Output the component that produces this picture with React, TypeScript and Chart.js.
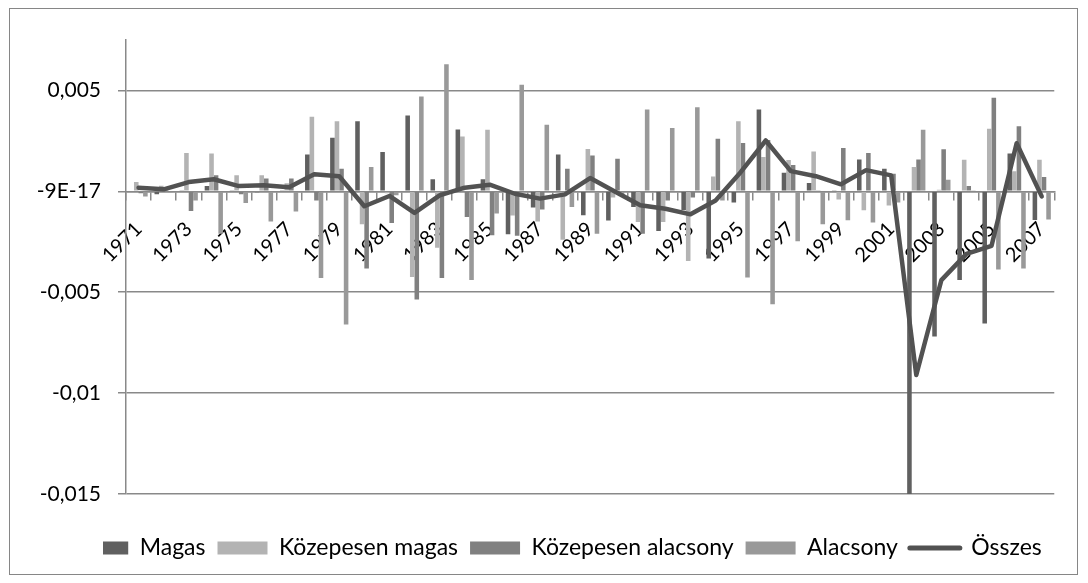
import React, { useEffect, useRef } from "react";
import { Chart, registerables } from "chart.js";

Chart.register(...registerables);

const FONT = "Lato, 'Open Sans', sans-serif";
const GRID = "#898989";

const YEARS = [
  "1971", "1972", "1973", "1974", "1975", "1976", "1977", "1978", "1979", "1980",
  "1981", "1982", "1983", "1984", "1985", "1986", "1987", "1988", "1989", "1990",
  "1991", "1992", "1993", "1994", "1995", "1996", "1997", "1998", "1999", "2000",
  "2001", "2002", "2003", "2004", "2005", "2006", "2007",
];

const MAGAS = [
  0, -0.00015, 0.00005, 0.00027, 0.00005, -0.00005, 0.00005, 0.00183, 0.00265, 0.00347,
  0.00195, 0.00376, 0.0006, 0.00307, 0.0006, -0.00213, -0.0008, 0.00183, -0.00119, -0.00145,
  -0.00078, -0.00197, -0.00094, -0.00333, -0.00055, 0.00406, 0.00092, 0.00041, 0.00005, 0.00158,
  0.00112, -0.0152, -0.0072, -0.0044, -0.00655, 0.00188, -0.00142,
];

const KOZEPESEN_MAGAS = [
  0.00046, 0.00028, 0.0019, 0.00187, 0.0008, 0.0008, 0.0004, 0.0037, 0.00347, -0.00163,
  -0.0001, -0.00424, -0.0028, 0.00272, 0.00305, -0.0012, -0.0015, -0.0024, 0.0021, -0.0003,
  -0.00152, -0.00152, -0.00345, 0.00074, 0.00347, 0.0017, 0.00155, 0.00198, -0.00041, -0.00094,
  -0.0007, 0.0012, 0.00008, 0.00157, 0.0031, 0.001, 0.00157,
];

const KOZEPESEN_ALACSONY = [
  -0.0001, 0.0001, -0.00097, 0.0008, -0.00015, 0.00063, 0.00063, -0.00045, 0.00112, -0.00383,
  -0.00157, -0.00536, -0.0043, -0.00127, -0.00218, -0.0022, -0.0009, 0.00112, 0.00178, 0.00162,
  -0.0021, -0.00045, -0.0003, 0.0026, 0.0024, 0.00254, 0.0013, 0.00005, 0.00215, 0.0019,
  0.00087, 0.00158, 0.00208, 0.00026, 0.00464, 0.00323, 0.00071,
];

const ALACSONY = [
  -0.00025, -0.00005, -0.00045, -0.0021, -0.00058, -0.0015, -0.001, -0.0043, -0.0066, 0.0012,
  -0.0002, 0.0047, 0.0063, -0.0044, -0.0011, 0.00528, 0.0033, -0.00078, -0.0021, -0.0002,
  0.00406, 0.00314, 0.00417, -0.00045, -0.00427, -0.0056, -0.00248, -0.00163, -0.00143, -0.00155,
  -0.00055, 0.00305, 0.00058, 0.00003, -0.00388, -0.00383, -0.0014,
];

const OSSZES = [
  0.00018, 0.0001, 0.00046, 0.0006, 0.00026, 0.0003, 0.0002, 0.00085, 0.00075, -0.00074,
  -0.00023, -0.00107, -0.0002, 0.00018, 0.00033, -0.00012, -0.00036, -0.00015, 0.00066, -0.00002,
  -0.00069, -0.00086, -0.00114, -0.00045, 0.00095, 0.00252, 0.001, 0.00075, 0.00035, 0.00105,
  0.00079, -0.0091, -0.0044, -0.0031, -0.0027, 0.00238, -0.00025,
];

const Y_TICKS = [-0.015, -0.01, -0.005, 0, 0.005];
const Y_LABELS = ["-0,015", "-0,01", "-0,005", "-9E-17", "0,005"];

// Moves the legend right and clips its left end, as the reference legend is cut at its left edge.
const legendTweak = {
  id: "legendTweak",
  afterLayout(chart: any) {
    const l = chart.legend;
    if (l) {
      l.left += 25;
      l.right += 25;
    }
  },
  afterDraw(chart: any) {
    const l = chart.legend;
    if (!l) return;
    const ctx = chart.ctx;
    ctx.save();
    ctx.fillStyle = "#ffffff";
    ctx.fillRect(0, l.top, 93, l.height);
    ctx.restore();
  },
};

export default function App() {
  const ref = useRef<HTMLCanvasElement>(null);

  useEffect(() => {
    if (!ref.current) return;
    const barCommon = {
      borderWidth: 0,
      categoryPercentage: 4 / 5.5,
      barPercentage: 1,
      xAxisID: "x",
      yAxisID: "y",
    };
    const chart = new Chart(ref.current, {
      type: "bar",
      data: {
        labels: YEARS,
        datasets: [
          { ...barCommon, label: "Magas", data: MAGAS, backgroundColor: "#606060" },
          { ...barCommon, label: "Közepesen magas", data: KOZEPESEN_MAGAS, backgroundColor: "#b3b3b3" },
          { ...barCommon, label: "Közepesen alacsony", data: KOZEPESEN_ALACSONY, backgroundColor: "#808080" },
          { ...barCommon, label: "Alacsony", data: ALACSONY, backgroundColor: "#999999" },
          {
            type: "line",
            label: "Összes",
            data: OSSZES,
            borderColor: "#525252",
            backgroundColor: "#525252",
            borderWidth: 4.5,
            pointRadius: 0,
            pointHoverRadius: 0,
            tension: 0,
            borderCapStyle: "round",
            borderJoinStyle: "round",
            order: -1,
            xAxisID: "x",
            yAxisID: "y",
          } as any,
        ],
      },
      plugins: [legendTweak],
      options: {
        responsive: false,
        animation: false,
        layout: { padding: { left: 0, top: 31, right: 17, bottom: 4.5 } },
        plugins: {
          tooltip: { enabled: false },
          legend: {
            position: "bottom",
            labels: {
              usePointStyle: true,
              pointStyleWidth: 50,
              boxHeight: 13,
              padding: 12,
              color: "#000",
              font: { size: 23, family: FONT },
              sort: (a: any, b: any) => a.datasetIndex - b.datasetIndex,
              generateLabels: (c: any) => {
                const items = (Chart.defaults as any).plugins.legend.labels.generateLabels(c);
                items.forEach((it: any) => {
                  if (it.datasetIndex < 4) {
                    it.pointStyle = "rect";
                    it.lineWidth = 0;
                  } else {
                    it.pointStyle = "line";
                    it.lineWidth = 5;
                    it.strokeStyle = "#525252";
                    it.lineCap = "round";
                  }
                });
                return items;
              },
            },
          },
        },
        scales: {
          x: {
            type: "category",
            position: { y: 0 } as any,
            offset: true,
            grid: {
              display: true,
              drawOnChartArea: false,
              drawTicks: true,
              tickLength: 8,
              color: GRID,
              lineWidth: 1.5,
              offset: true,
            },
            border: { display: true, color: GRID, width: 1.5 },
            ticks: {
              autoSkip: false,
              maxRotation: 45,
              minRotation: 45,
              padding: 18,
              color: "#000",
              font: { size: 20, family: FONT },
              callback: (_v: any, i: number) => (i % 2 === 0 ? YEARS[i] : ""),
            },
          },
          xPad: {
            type: "category",
            position: "bottom",
            grid: { display: false, drawTicks: false },
            border: { display: false },
            ticks: { display: false },
            afterFit: (s: any) => {
              s.height = 30.5;
            },
          },
          y: {
            position: "left",
            min: -0.015,
            max: 0.0075,
            afterBuildTicks: (s: any) => {
              s.ticks = Y_TICKS.map((v) => ({ value: v }));
            },
            afterFit: (s: any) => {
              s.width = 116;
            },
            grid: { color: GRID, lineWidth: 1.5, tickLength: 8, drawTicks: true },
            border: { display: true, color: GRID, width: 1.5 },
            ticks: {
              padding: 17,
              color: "#000",
              font: { size: 21, family: FONT },
              callback: (_v: any, i: number) => Y_LABELS[i] ?? "",
            },
          },
        } as any,
      },
    });
    return () => chart.destroy();
  }, []);

  return (
    <div
      style={{
        position: "absolute",
        left: 9,
        top: 8,
        width: 1069,
        height: 567,
        border: "1px solid #868686",
        boxSizing: "border-box",
        background: "#fff",
      }}
    >
      <canvas ref={ref} width={1067} height={565} style={{ display: "block" }} />
    </div>
  );
}
